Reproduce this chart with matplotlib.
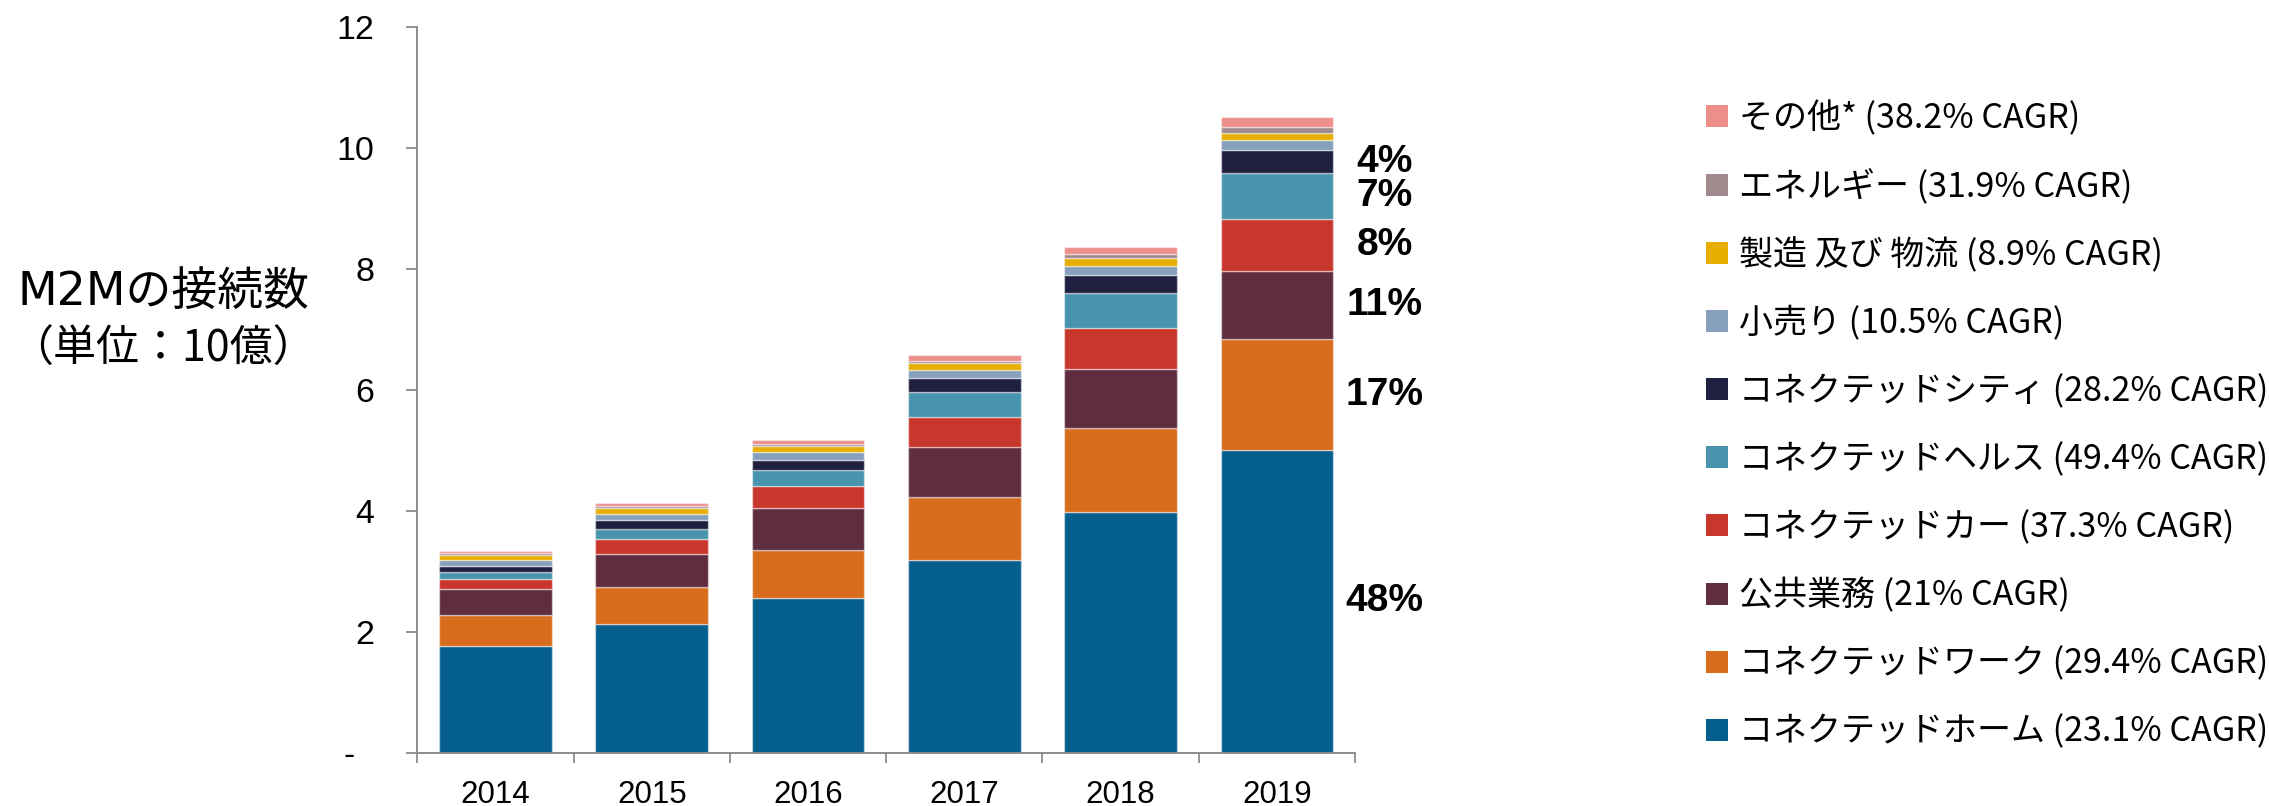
import numpy as np
import matplotlib
matplotlib.use("Agg")
import matplotlib.pyplot as plt
from matplotlib.patches import Patch

plt.rcParams['font.family'] = ['Liberation Sans', 'Noto Sans CJK JP', 'DejaVu Sans']

years = ["2014", "2015", "2016", "2017", "2018", "2019"]

# series from bottom of the stack to the top
series_names = [
    "コネクテッドホーム (23.1% CAGR)",
    "コネクテッドワーク (29.4% CAGR)",
    "公共業務 (21% CAGR)",
    "コネクテッドカー (37.3% CAGR)",
    "コネクテッドヘルス (49.4% CAGR)",
    "コネクテッドシティ (28.2% CAGR)",
    "小売り (10.5% CAGR)",
    "製造 及び 物流 (8.9% CAGR)",
    "エネルギー (31.9% CAGR)",
    "その他* (38.2% CAGR)",
]
series_colors = ["#045f8f", "#d66c1c", "#5e2d40", "#c9372c", "#4893ad",
                 "#1f2040", "#86a0be", "#e5ae00", "#a08a8e", "#ec8e8a"]

home = [1.78, 2.13, 2.57, 3.19, 3.99, 5.02]
work = [0.50, 0.62, 0.79, 1.04, 1.39, 1.82]
public = [0.44, 0.55, 0.70, 0.83, 0.98, 1.14]
car = [0.16, 0.25, 0.36, 0.50, 0.67, 0.85]
health = [0.12, 0.16, 0.26, 0.41, 0.58, 0.76]
city = [0.10, 0.15, 0.17, 0.23, 0.30, 0.38]
retail = [0.10, 0.10, 0.13, 0.14, 0.15, 0.16]
manufacturing = [0.08, 0.10, 0.10, 0.11, 0.12, 0.13]
energy = [0.03, 0.03, 0.04, 0.03, 0.07, 0.10]
other = [0.03, 0.04, 0.06, 0.10, 0.12, 0.16]

share_labels = ["48%", "17%", "11%", "8%", "7%", "4%"]

all_series = [home, work, public, car, health, city, retail,
              manufacturing, energy, other]

fig = plt.figure(figsize=(22.69, 8.06), dpi=100)
ax = fig.add_axes([0.1839, 0.06538, 0.4133, 0.90075])

x = np.arange(len(years))
bottom = np.zeros(len(years))
for vals, name, col in zip(all_series, series_names, series_colors):
    ax.bar(x, vals, 0.72, bottom=bottom, color=col, label=name,
           edgecolor=(1, 1, 1, 0.45), linewidth=1.0)
    bottom = bottom + np.array(vals)

# share labels next to the 2019 bar, at the middle of each segment
base = 0.0
for vals, lab in zip(all_series, share_labels):
    v = vals[-1]
    ax.text(x[-1] + 0.69, base + v / 2, lab, ha="center", va="center",
            fontsize=28, fontweight="bold", family="Liberation Sans",
            clip_on=False)
    base += v

ax.set_xlim(-0.5, 5.5)
ax.set_ylim(0, 12)
ax.set_yticks(np.arange(0, 13, 2))
ax.set_yticklabels(["-  ", "2", "4", "6", "8", "10", "12"])
ax.set_xticks(x)
ax.set_xticklabels(years)
ax.set_xticks(np.arange(-0.5, 6.0, 1.0), minor=True)

for s in ["top", "right"]:
    ax.spines[s].set_visible(False)
for s in ["left", "bottom"]:
    ax.spines[s].set_color("#8c8c8c")
    ax.spines[s].set_linewidth(1.4)

ax.tick_params(axis="y", which="major", direction="out", length=8,
               width=1.3, color="#8c8c8c", labelsize=24.5, pad=23)
ax.tick_params(axis="x", which="major", length=0, labelsize=22.5, pad=19)
ax.tick_params(axis="x", which="minor", direction="out", length=7,
               width=1.3, color="#8c8c8c")

fig.text(0.0719, 1 - 292.5 / 806, "M2Mの接続数", ha="center", va="center",
         fontsize=33, family=["DejaVu Sans", "Noto Sans CJK JP"])
fig.text(0.0716, 1 - 350 / 806, "（単位：10億）", ha="center", va="center",
         fontsize=31, family=["Noto Sans CJK JP", "DejaVu Sans"])

handles = [Patch(facecolor=c, edgecolor="none") for c in series_colors]
leg = fig.legend(handles[::-1], series_names[::-1], loc="upper left",
                 bbox_to_anchor=(0.752, 0.875), frameon=False,
                 prop={"family": ["Noto Sans CJK JP", "DejaVu Sans"], "size": 24.5},
                 handlelength=0.65, handleheight=0.62, handletextpad=0.3,
                 labelspacing=0.97, borderpad=0, borderaxespad=0)

fig.savefig("out.png", dpi=100)
